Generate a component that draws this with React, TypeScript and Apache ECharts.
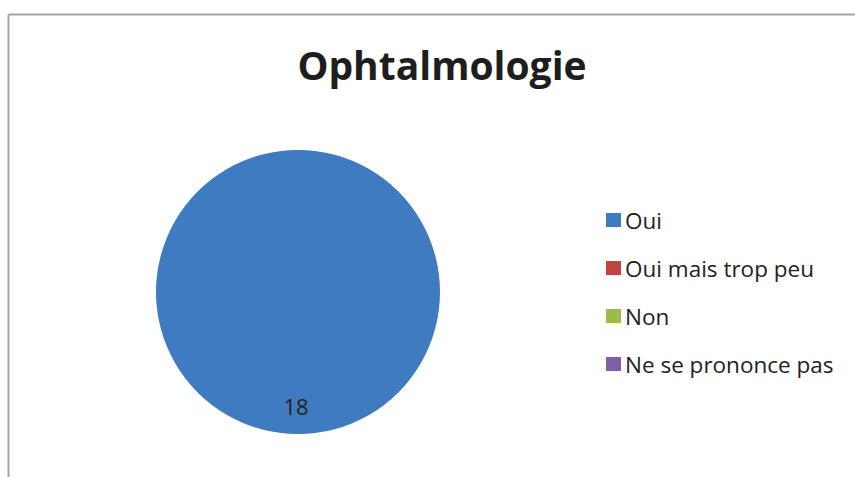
import React, { useEffect, useRef } from "react";
import * as echarts from "echarts";

const categories = ["Oui", "Oui mais trop peu", "Non", "Ne se prononce pas"];
const values = [18, 0, 0, 0];
const colors = ["#3e7bc0", "#c0433d", "#9bbb4a", "#7f60a6"];
const titleText = "Ophtalmologie";

export default function App() {
  const ref = useRef<HTMLDivElement>(null);
  useEffect(() => {
    if (!ref.current) return;
    const chart = echarts.init(ref.current, null, { renderer: "svg" });
    const font = "'Open Sans', sans-serif";
    chart.setOption({
      animation: false,
      backgroundColor: "#ffffff",
      title: {
        text: titleText,
        left: 437,
        top: 40,
        textAlign: "center",
        textStyle: { fontFamily: font, fontSize: 39, fontWeight: "bold", color: "#1e1e1e" },
      },
      legend: {
        orient: "vertical",
        left: 601,
        top: 203,
        itemWidth: 15,
        itemHeight: 14,
        itemGap: 24,
        icon: "rect",
        data: categories,
        textStyle: { fontFamily: font, fontSize: 22.5, color: "#222", lineHeight: 24, padding: [0, 0, 0, -1] },
      },
      color: colors,
      graphic: [
        { type: "line", shape: { x1: 8.5, y1: 14.5, x2: 855, y2: 14.5 }, style: { stroke: "#a6a6a6", lineWidth: 2 } },
        { type: "line", shape: { x1: 8.5, y1: 14.5, x2: 8.5, y2: 477 }, style: { stroke: "#a6a6a6", lineWidth: 2 } },
      ],
      series: [
        {
          type: "pie",
          center: [298, 292],
          radius: 142,
          startAngle: 90,
          label: { show: false },
          labelLine: { show: false },
          silent: true,
          data: categories.map((c, i) => ({ name: c, value: values[i], itemStyle: { color: colors[i] } })),
        },
        {
          type: "pie",
          center: [296, 292],
          radius: 222,
          startAngle: 90,
          silent: true,
          itemStyle: { color: "transparent" },
          labelLine: { show: false },
          label: {
            show: true,
            position: "inside",
            formatter: (p: any) => (p.value > 0 ? String(p.value) : ""),
            fontFamily: font,
            fontSize: 22,
            color: "#222",
          },
          data: categories.map((c, i) => ({ name: "lbl-" + c, value: values[i] })),
        },
      ],
    });
    return () => chart.dispose();
  }, []);
  return <div ref={ref} style={{ position: "fixed", left: 0, top: 0, width: 855, height: 477 }} />;
}
